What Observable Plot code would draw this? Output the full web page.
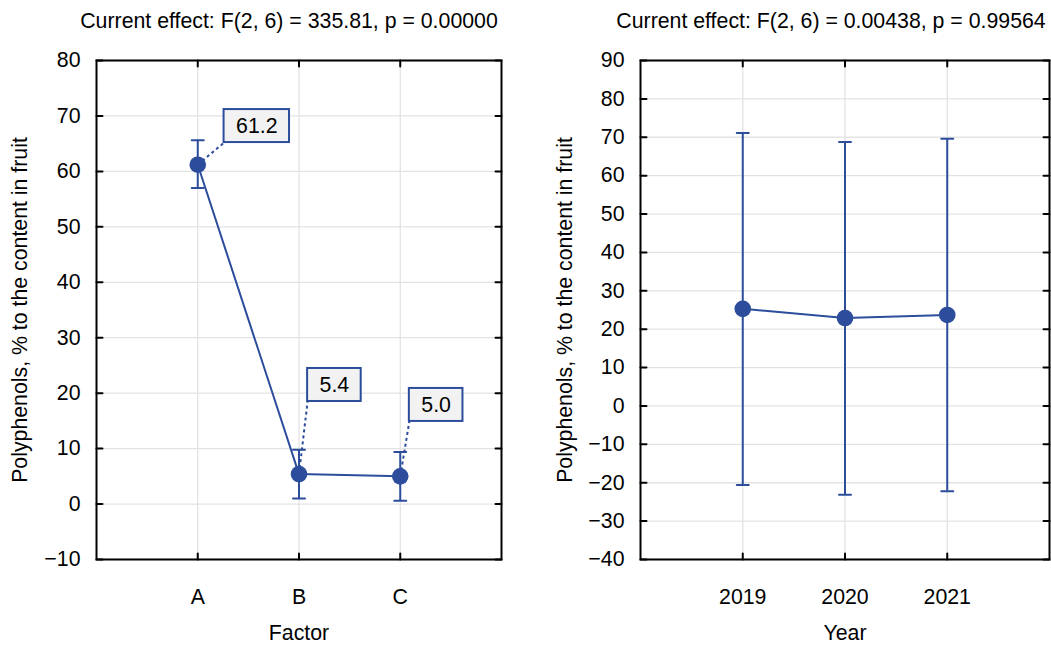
<!DOCTYPE html>
<html><head><meta charset="utf-8">
<script src="https://cdn.jsdelivr.net/npm/d3@7"></script>
<script src="https://cdn.jsdelivr.net/npm/@observablehq/plot@0.6"></script>
<style>
body{margin:0;background:#fff}
#wrap{display:flex;width:1051px;height:645px;overflow:hidden}
svg{display:block}
</style>
</head><body><div id="wrap"></div>
<script>
// ---- data ----
const factors = ["A", "B", "C"];
const factorMeans = [61.2, 5.4, 5.0];
const factorLow = [57.0, 1.0, 0.6];
const factorHigh = [65.6, 9.8, 9.4];
const factorTicks = [-10, 0, 10, 20, 30, 40, 50, 60, 70, 80];
const factorTitle = "Current effect: F(2, 6) = 335.81, p = 0.00000";

const years = ["2019", "2020", "2021"];
const yearMeans = [25.3, 22.9, 23.7];
const yearLow = [-20.6, -23.1, -22.2];
const yearHigh = [71.1, 68.8, 69.6];
const yearTicks = [-40, -30, -20, -10, 0, 10, 20, 30, 40, 50, 60, 70, 80, 90];
const yearTitle = "Current effect: F(2, 6) = 0.00438, p = 0.99564";

const yLabel = "Polyphenols, % to the content in fruit";
const labelText = ["61.2", "5.4", "5.0"];
// annotation anchors (lower-left corner of each label box), in data units
const labelAtX = [1.26, 2.085, 3.09];
const labelAtY = [65.2, 18.5, 14.9];

// ---- styles ----
const BLUE = "#2c4c9c";
const FONT = "'Liberation Sans', Arial, Helvetica, sans-serif";
const FS = 21.3;
const ns = "http://www.w3.org/2000/svg";
const lineShape = {draw(context, l) { context.moveTo(0, 0); context.lineTo(0, -l); }};

function boxedLabels(index, scales, values, dimensions, context, next) {
  const g = next(index, scales, values, dimensions, context);
  const wrap = document.createElementNS(ns, "g");
  const cv = document.createElement("canvas").getContext("2d");
  cv.font = `${FS}px ${FONT}`;
  for (const i of index) {
    const w = cv.measureText(labelText[i]).width + 24;
    const r = document.createElementNS(ns, "rect");
    r.setAttribute("x", values.x[i]);
    r.setAttribute("y", values.y[i] - 33);
    r.setAttribute("width", w);
    r.setAttribute("height", 33);
    r.setAttribute("fill", "#f2f2f2");
    r.setAttribute("stroke", BLUE);
    r.setAttribute("stroke-width", 2);
    wrap.appendChild(r);
  }
  wrap.appendChild(g);
  return wrap;
}

function panel({cats, means, low, high, ticks, title, titleDx, xLabel, width, marginLeft, marginRight, labels}) {
  const rows = cats.map((c, i) => ({pos: i + 1, mean: means[i], lo: low[i], hi: high[i]}));
  const pos = rows.map(d => d.pos);
  const marks = [
    Plot.gridY(ticks, {stroke: "#e3e3e3", strokeOpacity: 1, strokeWidth: 1.3}),
    Plot.gridX(pos, {stroke: "#e3e3e3", strokeOpacity: 1, strokeWidth: 1.3}),
    Plot.axisY(ticks, {anchor: "left", tickSize: 0, tickPadding: 16, fontSize: FS, label: null}),
    Plot.axisX(pos, {anchor: "bottom", tickSize: 0, tickPadding: 29, fontSize: FS, label: null, tickFormat: p => cats[p - 1]}),
    Plot.vector(ticks, {y: d => d, frameAnchor: "left", rotate: 90, length: 6, anchor: "start", shape: lineShape, stroke: "black", strokeWidth: 2}),
    Plot.vector(ticks, {y: d => d, frameAnchor: "right", rotate: -90, length: 6, anchor: "start", shape: lineShape, stroke: "black", strokeWidth: 2}),
    Plot.vector(pos, {x: d => d, frameAnchor: "top", rotate: 180, length: 6, anchor: "start", shape: lineShape, stroke: "black", strokeWidth: 2}),
    Plot.vector(pos, {x: d => d, frameAnchor: "bottom", rotate: 0, length: 6, anchor: "start", shape: lineShape, stroke: "black", strokeWidth: 2}),
    Plot.frame({stroke: "black", strokeWidth: 2}),
    Plot.ruleX(rows, {x: "pos", y1: "lo", y2: "hi", stroke: BLUE, strokeWidth: 2}),
    Plot.vector(rows, {x: "pos", y: "lo", rotate: 90, length: 12, anchor: "middle", shape: lineShape, stroke: BLUE, strokeWidth: 2}),
    Plot.vector(rows, {x: "pos", y: "hi", rotate: 90, length: 12, anchor: "middle", shape: lineShape, stroke: BLUE, strokeWidth: 2}),
    Plot.line(rows, {x: "pos", y: "mean", stroke: BLUE, strokeWidth: 2})
  ];
  if (labels) {
    const idx = labelText.map((_, i) => i);
    marks.push(
      Plot.link(idx, {x1: i => i + 1, y1: i => means[i], x2: i => labelAtX[i], y2: i => labelAtY[i], stroke: BLUE, strokeWidth: 2, strokeDasharray: "3,3"}),
      Plot.text(idx, {x: i => labelAtX[i], y: i => labelAtY[i], text: i => labelText[i], textAnchor: "start", lineAnchor: "middle", dx: 12, dy: -16, fontSize: FS, fill: "black", render: boxedLabels})
    );
  }
  marks.push(
    Plot.dot(rows, {x: "pos", y: "mean", r: 8.3, fill: BLUE, stroke: null}),
    Plot.text([title], {frameAnchor: "top", textAnchor: "middle", lineAnchor: "middle", dy: -39, dx: titleDx, fontSize: FS, fill: "black"}),
    Plot.text([xLabel], {frameAnchor: "bottom", textAnchor: "middle", lineAnchor: "middle", dy: 74, fontSize: FS, fill: "black"}),
    Plot.text([yLabel], {frameAnchor: "left", textAnchor: "middle", lineAnchor: "middle", rotate: -90, dx: marginLeft === 96 ? -76 : -75, fontSize: FS, fill: "black"})
  );
  return Plot.plot({
    width, height: 645,
    marginLeft, marginRight, marginTop: 60, marginBottom: 86,
    style: {fontFamily: FONT, fontSize: FS + "px", color: "black", background: "white"},
    x: {type: "linear", domain: [0, 4]},
    y: {domain: [ticks[0], ticks[ticks.length - 1]]},
    marks
  });
}

const wrap = document.getElementById("wrap");
wrap.appendChild(panel({cats: factors, means: factorMeans, low: factorLow, high: factorHigh, ticks: factorTicks,
  title: factorTitle, titleDx: -10, xLabel: "Factor", width: 525, marginLeft: 96, marginRight: 24, labels: true}));
wrap.appendChild(panel({cats: years, means: yearMeans, low: yearLow, high: yearHigh, ticks: yearTicks,
  title: yearTitle, titleDx: -14, xLabel: "Year", width: 526, marginLeft: 115, marginRight: 2, labels: false}));
</script>
</body></html>
